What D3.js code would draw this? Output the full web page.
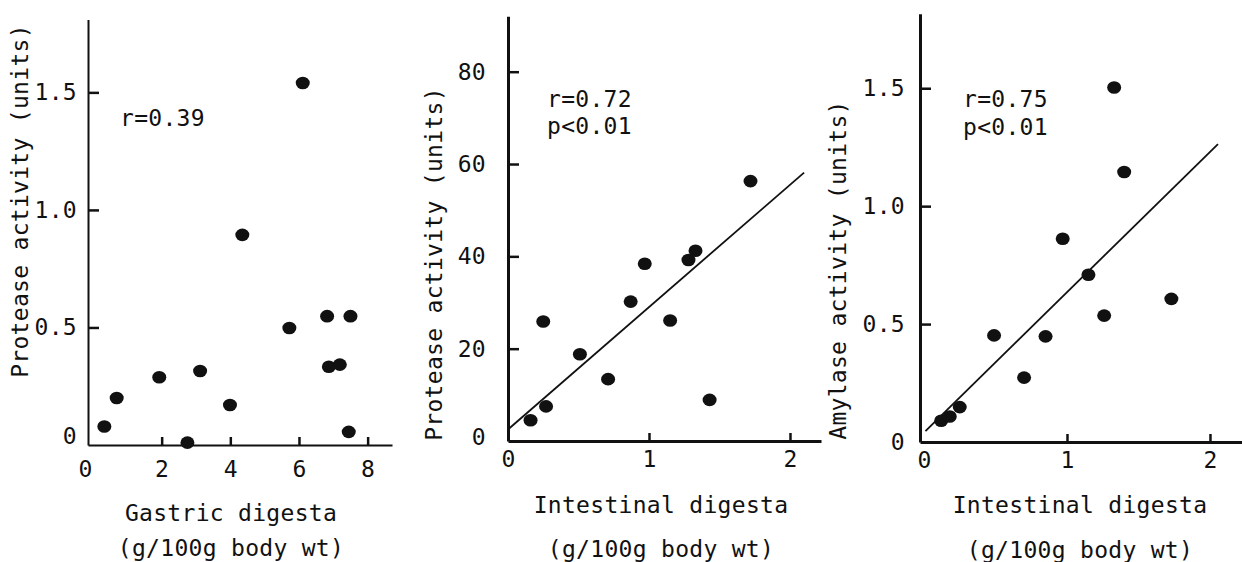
<!DOCTYPE html>
<html>
<head>
<meta charset="utf-8">
<script src="https://cdn.jsdelivr.net/npm/d3@7"></script>
<style>
  html, body { margin: 0; padding: 0; background: #fff; }
  svg { display: block; }
  text { font-family: "DejaVu Sans Mono", "Liberation Mono", monospace; fill: #111; }
</style>
</head>
<body>
<svg id="chart" width="1242" height="562"></svg>
<script>
// ---- Data ----
// Panel A: gastric digesta vs protease activity
const gastricDigesta   = [0.33, 0.69, 1.93, 2.75, 3.12, 3.99, 4.35, 5.72, 6.11, 6.82, 6.87, 7.19, 7.50, 7.45];
const gastricProtease  = [0.079, 0.20, 0.288, 0.01, 0.315, 0.17, 0.894, 0.498, 1.54, 0.548, 0.333, 0.342, 0.548, 0.056];
// Panel B: intestinal digesta vs protease activity
const intestDigestaB   = [0.16, 0.27, 0.25, 0.51, 0.71, 0.87, 0.97, 1.15, 1.28, 1.33, 1.43, 1.72];
const intestProtease   = [4.5, 7.5, 25.9, 18.8, 13.4, 30.2, 38.4, 26.1, 39.2, 41.2, 8.9, 56.3];
// Panel C: intestinal digesta vs amylase activity
const intestDigestaC   = [0.12, 0.18, 0.25, 0.49, 0.70, 0.85, 0.97, 1.15, 1.26, 1.33, 1.40, 1.73];
const intestAmylase    = [0.09, 0.108, 0.148, 0.452, 0.273, 0.448, 0.862, 0.709, 0.536, 1.503, 1.145, 0.607];
// Regression lines (intercept, slope, x-extent)
const fitB = { a: 2.5, b: 26.5, x: [0.01, 2.10] };
const fitC = { a: 0.04, b: 0.595, x: [0.01, 2.056] };
// Tick labels
const ticksAx = [0, 2, 4, 6, 8];
const ticksAy = [0, 0.5, 1.0, 1.5];
const ticksBx = [0, 1, 2];
const ticksBy = [0, 20, 40, 60, 80];
const ticksCx = [0, 1, 2];
const ticksCy = [0, 0.5, 1.0, 1.5];
// Texts
const statsA = ["r=0.39"];
const statsB = ["r=0.72", "p<0.01"];
const statsC = ["r=0.75", "p<0.01"];
const xTitleA = ["Gastric digesta", "(g/100g body wt)"];
const xTitleB = ["Intestinal digesta", "(g/100g body wt)"];
const xTitleC = ["Intestinal digesta", "(g/100g body wt)"];
const yTitleA = "Protease activity (units)";
const yTitleB = "Protease activity (units)";
const yTitleC = "Amylase activity (units)";

// ---- Layout ----
const FONT = 23, LS = 0.3;
const panels = [
  {
    xs: gastricDigesta, ys: gastricProtease, fit: null,
    xDom: [-0.146, 8.71], xRange: [88, 392],
    yDom: [0, 1.81], yRange: [445, 19.5],
    xTicks: ticksAx, yTicks: ticksAy,
    xFmt: d => d3.format("d")(d), yFmt: d => d === 0 ? "0" : d3.format(".1f")(d),
    axisW: 2, xPad: 16, yPad: 11, zeroXdx: -8, zeroYdy: -9,
    stats: statsA, statsX: 120, statsY: [126],
    xTitle: xTitleA, xTitleX: 231, xTitleY: [521, 556],
    yTitle: yTitleA, yTitleX: 20, yTitleY: 201
  },
  {
    xs: intestDigestaB, ys: intestProtease, fit: fitB,
    xDom: [0, 2.22], xRange: [508, 821],
    yDom: [0, 92], yRange: [441, 16.3],
    xTicks: ticksBx, yTicks: ticksBy,
    xFmt: d => d3.format("d")(d), yFmt: d => d3.format("d")(d),
    axisW: 3, xPad: 10, yPad: 22, zeroXdx: 0, zeroYdy: -4,
    stats: statsB, statsX: 547, statsY: [107, 134],
    xTitle: xTitleB, xTitleX: 661, xTitleY: [513, 557],
    yTitle: yTitleB, yTitleX: 434, yTitleY: 264
  },
  {
    xs: intestDigestaC, ys: intestAmylase, fit: fitC,
    xDom: [-0.028, 2.224], xRange: [920, 1242],
    yDom: [0, 1.816], yRange: [442, 13.7],
    xTicks: ticksCx, yTicks: ticksCy,
    xFmt: d => d3.format("d")(d), yFmt: d => d === 0 ? "0" : d3.format(".1f")(d),
    axisW: 3, xPad: 10, yPad: 15, zeroXdx: 0, zeroYdy: 0,
    stats: statsC, statsX: 963, statsY: [107, 135],
    xTitle: xTitleC, xTitleX: 1080, xTitleY: [513, 558],
    yTitle: yTitleC, yTitleX: 838, yTitleY: 270
  }
];

const svg = d3.select("#chart");
svg.append("rect").attr("width", 1242).attr("height", 562).attr("fill", "#fff");

panels.forEach(p => {
  const x = d3.scaleLinear().domain(p.xDom).range(p.xRange);
  const y = d3.scaleLinear().domain(p.yDom).range(p.yRange);
  const g = svg.append("g");

  // x axis
  const gx = g.append("g")
    .attr("transform", `translate(0,${y(0)})`)
    .call(d3.axisBottom(x).tickValues(p.xTicks).tickFormat(p.xFmt)
      .tickSizeInner(-8).tickSizeOuter(0).tickPadding(p.xPad));
  // y axis
  const gy = g.append("g")
    .attr("transform", `translate(${x(p.xDom[0])},0)`)
    .call(d3.axisLeft(y).tickValues(p.yTicks).tickFormat(p.yFmt)
      .tickSizeInner(-11).tickSizeOuter(0).tickPadding(p.yPad));

  [gx, gy].forEach(ax => {
    ax.select(".domain").attr("stroke", "#111").attr("stroke-width", p.axisW);
    ax.selectAll(".tick line").attr("stroke", "#111").attr("stroke-width", 2.5);
    ax.selectAll(".tick text")
      .attr("font-size", FONT).attr("font-family", "DejaVu Sans Mono")
      .attr("letter-spacing", LS).attr("fill", "#111");
  });
  gx.selectAll(".tick").filter(d => d === 0).select("line").remove();
  gx.selectAll(".tick").filter(d => d === 0).select("text").attr("dx", p.zeroXdx);
  gy.selectAll(".tick").filter(d => d === 0).select("line").remove();
  gy.selectAll(".tick").filter(d => d === 0).select("text")
    .attr("transform", `translate(0,${p.zeroYdy})`);

  // regression line
  if (p.fit) {
    const f = p.fit;
    g.append("line")
      .attr("x1", x(f.x[0])).attr("y1", y(f.a + f.b * f.x[0]))
      .attr("x2", x(f.x[1])).attr("y2", y(f.a + f.b * f.x[1]))
      .attr("stroke", "#111").attr("stroke-width", 1.8);
  }

  // points
  g.selectAll("ellipse.pt").data(p.xs.map((v, i) => [v, p.ys[i]]))
    .join("ellipse").attr("class", "pt")
    .attr("cx", d => x(d[0])).attr("cy", d => y(d[1]))
    .attr("rx", 7).attr("ry", 6.3).attr("fill", "#111");

  // stats text
  p.stats.forEach((s, i) => {
    g.append("text").attr("x", p.statsX).attr("y", p.statsY[i])
      .attr("font-size", FONT).attr("letter-spacing", LS).text(s);
  });

  // x title
  p.xTitle.forEach((s, i) => {
    g.append("text").attr("x", p.xTitleX).attr("y", p.xTitleY[i])
      .attr("text-anchor", "middle")
      .attr("font-size", FONT).attr("letter-spacing", LS).text(s);
  });

  // y title
  g.append("text")
    .attr("transform", `translate(${p.yTitleX},${p.yTitleY}) rotate(-90)`)
    .attr("text-anchor", "middle").attr("dy", "0.35em")
    .attr("font-size", FONT).attr("letter-spacing", LS).text(p.yTitle);
});
</script>
</body>
</html>
